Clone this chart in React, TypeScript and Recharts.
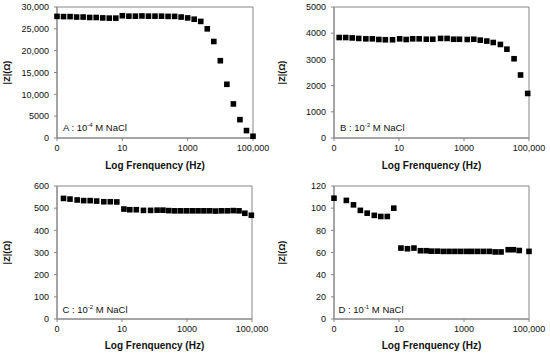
import React from 'react';
import { ScatterChart, Scatter, XAxis, YAxis, ReferenceArea } from 'recharts';

// x positions are in axis units (0 .. 30) where ticks 0, 10, 20, 30 read "0", "10", "1000", "100,000"
const xTicks = [0, 10, 20, 30];
const xTickLabels = ['0', '10', '1000', '100,000'];

// Panel A : 10^-4 M NaCl
const xA = [0, 1, 2, 3, 4, 5, 6, 7, 8, 9, 10, 11, 12, 13, 14, 15, 16, 17, 18, 19, 20, 21, 22, 23, 24, 25, 26, 27, 28, 29, 30];
const zA = [27850, 27800, 27800, 27700, 27700, 27600, 27600, 27500, 27450, 27450, 28000, 27900, 27900, 27950, 27900, 27900, 27900, 27850, 27850, 27700, 27500, 27200, 26700, 25000, 22100, 17700, 12300, 7800, 4200, 1700, 400];
const yTicksA = [0, 5000, 10000, 15000, 20000, 25000, 30000];
const yLabelsA = ['0', '5000', '10,000', '15,000', '20,000', '25,000', '30,000'];

// Panel B : 10^-3 M NaCl
const xB = [0.8, 1.8, 2.8, 3.8, 4.9, 5.9, 6.9, 7.9, 9.0, 10.1, 11.1, 12.1, 13.1, 14.2, 15.2, 16.4, 17.4, 18.4, 19.3, 20.5, 21.5, 22.5, 23.5, 24.5, 25.6, 26.6, 27.7, 28.7, 29.8];
const zB = [3835, 3835, 3820, 3800, 3785, 3785, 3760, 3750, 3750, 3785, 3760, 3785, 3785, 3770, 3770, 3800, 3800, 3770, 3770, 3760, 3770, 3735, 3700, 3645, 3570, 3390, 3025, 2405, 1700];
const yTicksB = [0, 1000, 2000, 3000, 4000, 5000];
const yLabelsB = ['0', '1000', '2000', '3000', '4000', '5000'];

// Panel C : 10^-2 M NaCl
const xC = [1.0, 2.0, 3.1, 4.1, 5.1, 6.1, 7.2, 8.2, 9.2, 10.3, 11.2, 12.2, 13.3, 14.4, 15.4, 16.3, 17.2, 18.1, 19.0, 19.9, 20.8, 21.7, 22.6, 23.5, 24.4, 25.3, 26.2, 27.1, 28.0, 28.9, 29.9];
const zC = [544, 541, 537, 534, 534, 532, 529, 529, 528, 496, 493, 493, 490, 490, 491, 491, 489, 488, 488, 488, 488, 488, 488, 488, 487, 488, 488, 489, 488, 477, 468];
const yTicksC = [0, 100, 200, 300, 400, 500, 600];
const yLabelsC = ['0', '100', '200', '300', '400', '500', '600'];

// Panel D : 10^-1 M NaCl
const xD = [0, 1.9, 3.0, 4.05, 5.1, 6.2, 7.2, 8.2, 9.2, 10.3, 11.3, 12.3, 13.3, 14.2, 15.0, 15.9, 16.8, 17.7, 18.6, 19.5, 20.4, 21.2, 22.1, 23.0, 23.9, 24.8, 25.7, 26.8, 27.6, 28.5, 30.0];
const zD = [109, 107, 103, 98, 95.5, 93.5, 92.5, 92.5, 100, 64, 63.4, 64, 61.6, 61.6, 61.2, 61.2, 61, 61, 61, 61, 61, 61, 61, 61, 61, 60.5, 60.5, 62.5, 62.5, 61.8, 61];
const yTicksD = [0, 20, 40, 60, 80, 100, 120];
const yLabelsD = ['0', '20', '40', '60', '80', '100', '120'];

const FONT = '"Liberation Sans", Arial, sans-serif';
const AXIS = '#868686';

type PanelProps = {
  xs: number[];
  zs: number[];
  yTicks: number[];
  yLabels: string[];
  left: number;
  top: number;
  yAxisWidth: number;
  rightMargin: number;
  topMargin: number;
  xAxisHeight: number;
  titleOffset: number;
  tag: string;
  exp: string;
  tagLeft: number;
  tagTop: number;
};

const Square = (props: any) => {
  const { cx, cy } = props;
  if (cx == null || cy == null) return null;
  const s = 5.6;
  return <rect x={cx - s / 2} y={cy - s / 2} width={s} height={s} fill="#000" />;
};

function Panel(p: PanelProps) {
  const data = p.xs.map((x, i) => ({ x, z: p.zs[i] }));
  const yMax = p.yTicks[p.yTicks.length - 1];
  return (
    <div style={{ position: 'absolute', left: p.left, top: p.top, width: 275, height: 178 }}>
      <ScatterChart
        width={275}
        height={178}
        margin={{ top: p.topMargin, right: p.rightMargin, bottom: 0, left: 0 }}
      >
        <XAxis
          type="number"
          dataKey="x"
          domain={[0, 30]}
          ticks={xTicks}
          tickFormatter={(v: number) => xTickLabels[xTicks.indexOf(v)] ?? ''}
          stroke={AXIS}
          tickSize={3}
          tickMargin={4}
          height={p.xAxisHeight}
          tick={{ fill: '#111', fontSize: 9, fontFamily: FONT }}
          label={{
            value: 'Log Frenquency (Hz)',
            position: 'insideBottom',
            offset: p.titleOffset,
            style: { fill: '#111', fontSize: 10, fontWeight: 'bold', fontFamily: FONT },
          }}
        />
        <YAxis
          type="number"
          dataKey="z"
          domain={[0, yMax]}
          ticks={p.yTicks}
          interval={0}
          tickFormatter={(v: number) => p.yLabels[p.yTicks.indexOf(v)] ?? ''}
          stroke={AXIS}
          tickSize={3}
          tickMargin={5}
          width={p.yAxisWidth}
          tick={{ fill: '#111', fontSize: 9, fontFamily: FONT }}
          label={{
            value: '|Z|(Ω)',
            angle: -90,
            position: 'insideLeft',
            offset: 7,
            style: { fill: '#111', fontSize: 9, fontWeight: 'bold', fontFamily: FONT, textAnchor: 'middle' },
          }}
        />
        <ReferenceArea x1={0} x2={30} y1={0} y2={yMax} fill="none" stroke={AXIS} strokeWidth={1} ifOverflow="visible" />
        <Scatter data={data} shape={<Square />} isAnimationActive={false} />
      </ScatterChart>
      <div
        style={{
          position: 'absolute',
          left: p.tagLeft,
          top: p.tagTop,
          fontFamily: FONT,
          fontSize: 9.5,
          color: '#111',
          whiteSpace: 'nowrap',
          lineHeight: '11px',
        }}
      >
        {p.tag} : 10<sup style={{ fontSize: 6, verticalAlign: 'baseline', position: 'relative', top: -4 }}>{p.exp}</sup> M NaCl
      </div>
    </div>
  );
}

export default function App() {
  return (
    <div style={{ position: 'absolute', left: 0, top: 0, width: 550, height: 355, background: '#fff', overflow: 'hidden' }}>
      <Panel xs={xA} zs={zA} yTicks={yTicksA} yLabels={yLabelsA} left={0} top={0}
        yAxisWidth={57} rightMargin={22} topMargin={7} xAxisHeight={40} titleOffset={9.5}
        tag="A" exp="-4" tagLeft={63} tagTop={122} />
      <Panel xs={xB} zs={zB} yTicks={yTicksB} yLabels={yLabelsB} left={275} top={0}
        yAxisWidth={59} rightMargin={21} topMargin={7} xAxisHeight={40} titleOffset={9.5}
        tag="B" exp="-3" tagLeft={65} tagTop={122} />
      <Panel xs={xC} zs={zC} yTicks={yTicksC} yLabels={yLabelsC} left={0} top={177}
        yAxisWidth={57} rightMargin={23} topMargin={9} xAxisHeight={36} titleOffset={6.5}
        tag="C" exp="-2" tagLeft={62.5} tagTop={127} />
      <Panel xs={xD} zs={zD} yTicks={yTicksD} yLabels={yLabelsD} left={275} top={177}
        yAxisWidth={59} rightMargin={21} topMargin={9} xAxisHeight={36} titleOffset={6.5}
        tag="D" exp="-1" tagLeft={63.5} tagTop={127} />
    </div>
  );
}
